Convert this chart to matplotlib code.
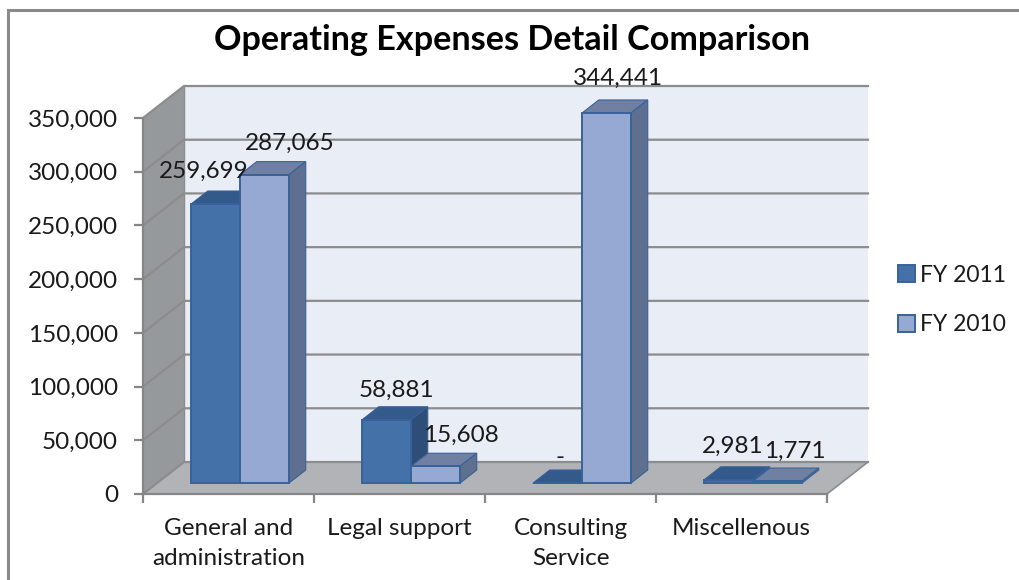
import matplotlib
matplotlib.use("Agg")
import matplotlib.pyplot as plt
from matplotlib.patches import Polygon, Rectangle

# values
categories = ["General and\nadministration", "Legal support", "Consulting\nService", "Miscellenous"]
fy2011 = [259699, 58881, 0, 2981]
fy2010 = [287065, 15608, 344441, 1771]
yticks = [0, 50000, 100000, 150000, 200000, 250000, 300000, 350000]
series_names = ["FY 2011", "FY 2010"]

plt.rcParams["font.family"] = ["Lato", "DejaVu Sans"]

W, H = 1020, 580
fig = plt.figure(figsize=(W / 100, H / 100), dpi=100)

# front plane of the fake 3d box
left, right, top, bottom = 143, 827, 118, 494
ax = fig.add_axes([left / W, 1 - bottom / H, (right - left) / W, (bottom - top) / H])
ymax = 350000
ax.set_xlim(0, 4)
ax.set_ylim(0, ymax)

# depth of the box in data units
px_x = 4 / (right - left)
px_y = ymax / (bottom - top)
DX = 41 * px_x
DY = 32 * px_y

GRID = "#8c8c8c"

def poly(pts, color, edge="none", lw=0, z=1):
    ax.add_patch(Polygon(pts, closed=True, facecolor=color, edgecolor=edge, linewidth=lw,
                         zorder=z, clip_on=False))

# walls and floor
poly([(DX, DY), (4 + DX, DY), (4 + DX, ymax + DY), (DX, ymax + DY)], "#e9edf6")
poly([(0, 0), (DX, DY), (DX, ymax + DY), (0, ymax)], "#96999c")
poly([(0, 0), (4, 0), (4 + DX, DY), (DX, DY)], "#b2b3b6")

for v in yticks:
    ax.plot([0, DX, 4 + DX], [v, v + DY, v + DY], color=GRID, lw=1.6, zorder=1.5,
            clip_on=False, solid_joinstyle="miter")
ax.plot([4, 4 + DX], [0, DY], color=GRID, lw=1.2, zorder=1.5, clip_on=False)
ax.plot([DX, DX], [DY, ymax + DY], color=GRID, lw=1.0, zorder=1.5, clip_on=False)

# bars sit part way into the floor
d0 = 0.34
d1 = 0.75
bw = 49 * px_x
gap = 34 * px_x
EDGE = "#386299"
styles = [("#4472a8", "#335a8a", "#2e4e78"), ("#95a9d2", "#6f80a3", "#5f6f8f")]

handles = []
for s, vals in enumerate([fy2011, fy2010]):
    front, topc, side = styles[s]
    xs = [i + d0 * DX + gap + s * bw for i in range(4)]
    z = 3 + s
    bars = ax.bar(xs, vals, width=bw, bottom=d0 * DY, align="edge", color=front, edgecolor=EDGE,
                  linewidth=1.4, zorder=z + 0.5, clip_on=False)
    handles.append(bars)
    ox = (d1 - d0) * DX
    oy = (d1 - d0) * DY
    for x, v in zip(xs, vals):
        b = d0 * DY
        t = b + v
        poly([(x, t), (x + bw, t), (x + bw + ox, t + oy), (x + ox, t + oy)], topc, EDGE, 0.8, z)
        poly([(x + bw, b), (x + bw + ox, b + oy), (x + bw + ox, t + oy), (x + bw, t)], side, EDGE, 0.8, z)

# data labels, excel moved these around so offsets are per bar (pixels)
offsets = [[(-12, 33), (10, 30), (3, 26), (4, 34)],
           [(25, 31), (25, 31), (12, 35), (17, 30)]]
for s, vals in enumerate([fy2011, fy2010]):
    for i, v in enumerate(vals):
        txt = "-" if v == 0 else f"{v:,}"
        x = i + d0 * DX + gap + s * bw + bw / 2
        ax.annotate(txt, (x, d0 * DY + v), xytext=(offsets[s][i][0] * 0.72, offsets[s][i][1] * 0.72),
                    textcoords="offset points", ha="center", va="center", fontsize=17.5,
                    color="#1a1a1a", zorder=10, annotation_clip=False)

# axes
for name in ["top", "right"]:
    ax.spines[name].set_visible(False)
for name in ["left", "bottom"]:
    ax.spines[name].set_color("#868686")
    ax.spines[name].set_linewidth(1.6)
    ax.spines[name].set_zorder(2)
ax.set_yticks(yticks)
ax.set_yticklabels([f"{v:,}" for v in yticks])
ax.set_xticks([0, 1, 2, 3, 4])
ax.set_xticklabels([])
ax.set_xticks([0.5, 1.5, 2.5, 3.5], minor=True)
ax.set_xticklabels(categories, minor=True, fontsize=17.5, color="#1a1a1a", linespacing=1.58)
ax.tick_params(axis="x", which="minor", length=0, pad=17)
ax.tick_params(axis="both", which="major", length=6.5, width=1.6, color="#868686")
ax.tick_params(axis="y", labelsize=17.5, labelcolor="#1a1a1a", pad=11.5)

fig.text(512 / W, 1 - 40 / H, "Operating Expenses Detail Comparison", ha="center", va="center",
         fontsize=24.6, fontweight="bold", color="black")

ax.legend(handles, series_names, loc="center left", bbox_to_anchor=(898 / W, 1 - 300 / H),
          bbox_transform=fig.transFigure, frameon=False, fontsize=16.5, handlelength=0.74,
          handleheight=0.74, handletextpad=0.22, labelspacing=1.25, borderpad=0, borderaxespad=0,
          labelcolor="#1a1a1a")

# chart frame, only the top and left show in the crop
fig.add_artist(Rectangle((8 / W, -0.1), 1.1, 1.1 + (1 - 10 / H) - 1.0, transform=fig.transFigure,
                         facecolor="none", edgecolor="#8a8a8a", linewidth=2.2))

fig.savefig("out.png", dpi=100)
